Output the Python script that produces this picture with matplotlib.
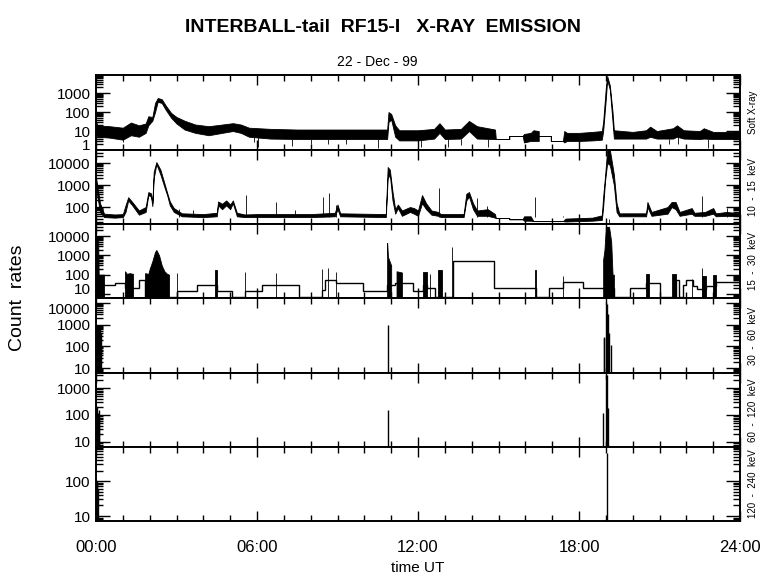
import numpy as np
import matplotlib
matplotlib.use('Agg')
import matplotlib.pyplot as plt
from matplotlib.ticker import FuncFormatter, MultipleLocator, LogLocator, NullFormatter

plt.rcParams['font.family'] = ['Liberation Sans', 'DejaVu Sans']

# ---------------- data (hours UT, count rates) ----------------
# Soft X-ray: noisy band given as (hour, low, high)
sx_t = [0.00, 0.05, 0.5, 1.0, 1.3, 1.6, 1.85, 1.95, 2.1, 2.2, 2.3, 2.45, 2.6, 2.8, 3.0,
        3.3, 3.7, 4.2, 4.7, 5.1, 5.4, 5.7, 6.5, 7.5, 8.5, 9.5, 10.5, 10.85, 10.9, 11.0,
        11.15, 11.3, 12.0, 12.6, 12.8, 13.0, 13.6, 13.9, 14.2, 14.87, 14.9, 15.4, 15.4,
        15.9, 15.95, 16.2, 16.3, 16.5, 16.5, 16.95, 16.95, 17.4, 17.45, 17.55, 18.0, 18.5,
        18.85, 18.9, 19.0, 19.05, 19.15, 19.25, 19.3, 20.0, 20.5, 20.65, 20.9, 21.5, 21.65,
        21.9, 22.5, 22.65, 23.0, 24.0]
sx_lo = [8, 5, 4.5, 3.5, 6, 5, 8, 20, 35, 100, 350, 300, 130, 50, 25,
         12, 8, 6, 8, 10, 8, 5, 4, 3.8, 3.8, 3.8, 3.8, 3.8, 30, 40,
         5, 3.2, 3.2, 4, 8, 3.8, 4, 10, 4, 3.8, 3.8, 3.8, 5.5,
         5.5, 2.5, 3, 3, 3, 5.5, 5.5, 3, 3, 2.5, 3, 3, 3.2,
         3.5, 10, 500, 5000, 1500, 30, 4, 4, 4, 5, 4, 4, 5,
         4, 3.8, 4, 3.8, 3.8]
sx_hi = [35, 20, 18, 15, 28, 20, 25, 60, 55, 300, 550, 480, 220, 90, 55,
         35, 22, 18, 22, 26, 22, 15, 13, 12, 12, 12, 12, 12, 100, 80,
         20, 11, 11, 13, 26, 12, 13, 34, 18, 12, 3.8, 3.8, 5.5,
         5.5, 7, 8, 11, 10, 5.5, 5.5, 3, 3, 10, 8, 8, 9,
         10, 30, 2000, 8000, 2500, 100, 11, 9, 11, 17, 10, 14, 20,
         11, 10, 14, 9, 9]
sx_dip_t = [1.0, 5.9, 6.05, 7.3, 8.0, 8.65, 9.3, 10.5, 12.1, 13.1, 13.6, 14.6, 21.35, 21.7, 22.8]
sx_dip_v = [2.5, 2.5, 1.4, 1.6, 2.0, 2.0, 2.0, 1.2, 1.4, 1.5, 1.8, 1.5, 2.0, 2.0, 1.2]

# 10 - 15 keV
e1_t = [0.0, 0.05, 0.15, 0.3, 0.7, 1.0, 1.1, 1.2, 1.35, 1.6, 1.85, 1.95, 2.05, 2.1, 2.15,
        2.25, 2.4, 2.55, 2.65, 2.75, 2.9, 3.2, 4.0, 4.5, 4.55, 4.7, 4.85, 5.0, 5.1, 5.25,
        5.55, 6.0, 7.0, 8.0, 8.9, 9.0, 9.1, 10.8, 10.87, 10.95, 11.05, 11.15, 11.25, 11.4,
        11.7, 11.85, 12.0, 12.15, 12.3, 12.5, 12.75, 12.85, 13.7, 13.8, 13.9, 14.05, 14.2,
        14.6, 14.87, 14.9, 15.4, 15.4, 15.9, 15.95, 16.2, 16.3, 16.95, 17.4, 17.5, 18.5,
        18.85, 18.9, 18.97, 19.05, 19.15, 19.3, 19.4, 19.5, 20.5, 20.55, 20.7, 21.3, 21.45,
        21.6, 21.75, 22.2, 22.3, 22.7, 23.0, 23.1, 23.5, 24.0]
e1_lo = [1500, 300, 60, 35, 33, 35, 60, 200, 120, 45, 60, 350, 300, 110, 2000,
         9000, 3000, 800, 350, 120, 60, 38, 35, 38, 120, 80, 120, 80, 150, 38,
         35, 35, 35, 35, 38, 80, 38, 35, 2000, 3000, 200, 50, 90, 40,
         60, 50, 40, 150, 80, 45, 40, 35, 35, 200, 300, 80, 40,
         40, 33, 32, 32, 28, 28, 24, 24, 23, 23, 23, 22, 24,
         26, 100, 1500, 10000, 8000, 1000, 60, 38, 38, 100, 40, 50, 100,
         80, 40, 50, 40, 40, 50, 38, 40, 38]
e1_hi = [2300, 900, 150, 50, 46, 48, 120, 280, 170, 70, 100, 480, 420, 150, 4000,
         11000, 5000, 1200, 450, 180, 90, 52, 48, 55, 180, 140, 200, 130, 200, 55,
         46, 48, 48, 48, 55, 130, 52, 48, 6600, 5000, 500, 80, 130, 70,
         100, 90, 70, 350, 150, 70, 60, 48, 48, 400, 480, 150, 70,
         80, 48, 32, 32, 28, 28, 38, 38, 23, 23, 23, 30, 33,
         42, 300, 2500, 40000, 40000, 3000, 150, 52, 52, 170, 60, 100, 170,
         170, 60, 90, 55, 60, 90, 52, 60, 52]
e1_spk_t = [3.1, 3.6, 5.6, 6.7, 7.4, 8.46, 8.7, 8.95, 12.8, 14.2, 14.57, 16.35, 17.4, 22.6, 23.5]
e1_spk_v = [80, 70, 350, 170, 75, 280, 430, 130, 730, 260, 110, 280, 40, 320, 90]

# 15 - 30 keV: step levels (left edges) and dense blocks
e2_edges = [0.0, 0.33, 0.7, 1.08, 1.4, 1.6, 1.83, 3.0, 3.75, 4.5, 5.07, 5.55, 6.2, 7.57,
            8.42, 8.55, 8.95, 9.95, 10.85, 11.15, 11.8, 12.2, 12.35, 12.65, 13.3, 14.85,
            16.4, 16.9, 17.4, 18.15, 19.3, 19.9, 20.5, 21.0, 21.6, 21.73, 21.87, 22.0,
            22.25, 22.4, 22.75, 23.1, 24.0]
e2_vals = [29, 29, 37, 20, 20, 53, 7, 14, 29, 14, 7, 14, 29, 7,
           16, 53, 37, 14, 29, 37, 14, 28, 20, 7, 510, 20,
           7, 20, 40, 20, 7, 20, 35, 7, 53, 7, 29, 55,
           25, 19, 25, 40]
e2_blocks = [
    [(0.0, 8000), (0.08, 8000), (0.1, 100), (0.3, 100)],
    [(1.08, 150), (1.15, 110), (1.25, 120), (1.38, 110)],
    [(1.83, 120), (1.95, 110), (2.0, 200), (2.1, 500), (2.2, 1500), (2.25, 1900),
     (2.35, 1000), (2.45, 300), (2.55, 150), (2.65, 110), (2.72, 100)],
    [(4.43, 170), (4.5, 170)],
    [(10.85, 4400), (10.88, 830), (11.0, 300)],
    [(11.2, 150), (11.4, 130)],
    [(12.2, 140), (12.35, 140)],
    [(12.75, 170), (12.9, 170)],
    [(16.35, 170), (16.4, 170)],
    [(18.9, 600), (18.95, 2000), (19.0, 30000), (19.12, 30000), (19.2, 5000), (19.25, 100), (19.3, 100)],
    [(20.5, 110), (20.6, 110)],
    [(21.45, 105), (21.6, 105)],
    [(22.6, 85), (22.75, 85)],
    [(23.0, 100), (23.1, 100)],
]
e2_spk_t = [3.0, 5.55, 6.7, 8.43, 8.65, 8.95, 12.45, 13.28, 17.4, 22.2, 22.6]
e2_spk_v = [120, 140, 120, 190, 230, 130, 105, 2700, 85, 60, 230]

# 30 - 60, 60 - 120, 120 - 240 keV: isolated events
e3_spk_t = [0.0, 0.03, 0.06, 0.1, 0.14, 0.18, 10.9, 18.93, 18.95, 19.02, 19.05, 19.08, 19.13, 19.18]
e3_spk_v = [950, 900, 700, 950, 600, 400, 1000, 270, 250, 11000, 9000, 3000, 400, 110]
e4_spk_t = [0.0, 0.03, 0.06, 0.1, 0.13, 10.9, 18.9, 19.0, 19.03, 19.07]
e4_spk_v = [230, 200, 120, 150, 100, 150, 120, 3000, 3000, 180]
e5_spk_t = [0.0, 0.02, 0.05, 0.08, 19.03]
e5_spk_v = [107, 90, 100, 60, 630]

ylims = [(1, 9000), (17, 39000), (6.2, 42000), (5.9, 17000), (6.5, 3600), (7.2, 940)]
right_labels = ['Soft X-ray', '10  -  15  keV', '15  -  30  keV', '30  -  60  keV',
                '60  -  120  keV', '120  -  240  keV']

# ---------------- figure ----------------
W, H = 780, 579
fig = plt.figure(figsize=(W / 100, H / 100), dpi=100)
tops = [75, 150, 224, 298, 373, 447]
bots = [150, 224, 298, 373, 447, 521]
axes = []
for top, bot in zip(tops, bots):
    ax = fig.add_axes([96 / W, 1 - bot / H, 644 / W, (bot - top) / H])
    axes.append(ax)

lw = 0.6
# panel 1
ax = axes[0]
ax.fill_between(sx_t, sx_lo, sx_hi, color='k', lw=lw)
ax.vlines(sx_dip_t, sx_dip_v, [sx_lo[int(np.searchsorted(sx_t, t)) - 1] for t in sx_dip_t], color='k', lw=lw)

# panel 2
ax = axes[1]
ax.fill_between(e1_t, e1_lo, e1_hi, color='k', lw=lw)
ax.vlines(e1_spk_t, 35, e1_spk_v, color='k', lw=lw)
ax.vlines([19.1], 5, 30, color='k', lw=lw)

# panel 3
ax = axes[2]
ax.stairs(e2_vals, e2_edges, color='k', lw=1.0, baseline=None)
for blk in e2_blocks:
    bt = [p[0] for p in blk]
    bv = [p[1] for p in blk]
    ax.fill_between(bt, 1, bv, color='k', lw=lw)
ax.vlines(e2_spk_t, 1, e2_spk_v, color='k', lw=lw)

# panels 4-6
for ax, st, sv in zip(axes[3:], [e3_spk_t, e4_spk_t, e5_spk_t], [e3_spk_v, e4_spk_v, e5_spk_v]):
    ax.vlines(st, 1, sv, color='k', lw=1.0)

hour_fmt = FuncFormatter(lambda v, p: '%02d:00' % round(v))
for i, ax in enumerate(axes):
    ax.set_yscale('log')
    ax.set_ylim(*ylims[i])
    ax.set_xlim(0, 24)
    ax.yaxis.set_major_locator(LogLocator(base=10, numticks=20))
    ax.yaxis.set_minor_locator(LogLocator(base=10, subs=np.arange(2, 10), numticks=20))
    ax.yaxis.set_major_formatter(FuncFormatter(lambda v, p: '%d' % round(v)))
    ax.yaxis.set_minor_formatter(NullFormatter())
    ax.xaxis.set_major_locator(MultipleLocator(6))
    ax.xaxis.set_minor_locator(MultipleLocator(1))
    ax.xaxis.set_major_formatter(hour_fmt)
    ax.tick_params(axis='both', which='both', direction='in', top=True, right=True,
                   width=1.0, colors='k')
    ax.tick_params(axis='y', which='major', length=10, labelsize=11, pad=4)
    ax.tick_params(axis='y', which='minor', length=5)
    ax.tick_params(axis='x', which='major', length=7, labelsize=12, pad=14)
    ax.tick_params(axis='x', which='minor', length=4)
    for s in ax.spines.values():
        s.set_linewidth(1.4)
    ax.text(1.02, 0.5, right_labels[i], transform=ax.transAxes, rotation=90,
            ha='center', va='center', fontsize=7)
    if i < 5:
        ax.tick_params(axis='x', labelbottom=False)

# labels that sit on a panel edge are pushed inside, as in the original plot
fig.canvas.draw()
for lab in axes[0].get_yticklabels():
    if lab.get_text() == '1':
        lab.set_va('baseline')
for lab in axes[2].get_yticklabels():
    if lab.get_text() == '10':
        lab.set_va('baseline')
for lab in axes[3].get_yticklabels():
    if lab.get_text() == '10000':
        lab.set_va('top')

fig.text(383 / W, 1 - 27 / H, 'INTERBALL-tail  RF15-I   X-RAY  EMISSION', ha='center',
         va='center', fontsize=14, fontweight='bold')
fig.text(377 / W, 1 - 62 / H, '22 - Dec - 99', ha='center', va='center', fontsize=10)
fig.text(18 / W, 1 - 298 / H, 'Count  rates', ha='center', va='center', rotation=90, fontsize=14)
fig.text(418 / W, 1 - 568 / H, 'time UT', ha='center', va='center', fontsize=11)

fig.savefig('out.png', dpi=100)
